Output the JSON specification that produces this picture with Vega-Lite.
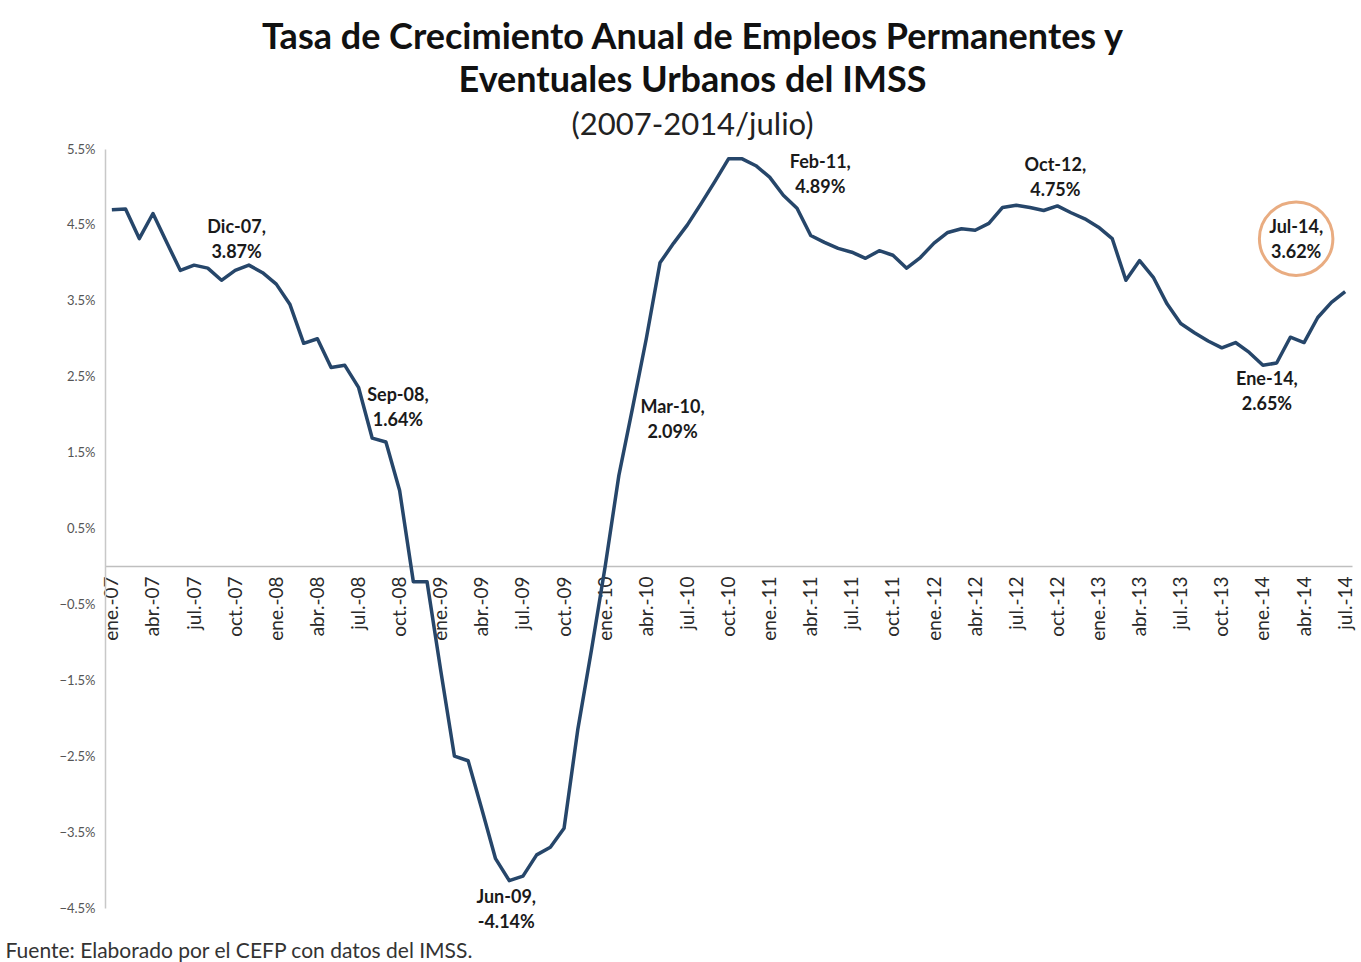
{
  "$schema": "https://vega.github.io/schema/vega-lite/v6.json",
  "autosize": "none",
  "width": 1247,
  "height": 759,
  "padding": {"left": 105, "top": 149, "right": 9, "bottom": 54},
  "background": "white",
  "config": {"view": {"stroke": null}, "font": "Lato"},
  "title": {
    "text": ["Tasa de Crecimiento Anual de Empleos Permanentes y", "Eventuales Urbanos del IMSS"],
    "subtitle": "(2007-2014/julio)",
    "anchor": "middle",
    "dx": -36,
    "font": "Lato",
    "fontSize": 36,
    "fontWeight": "bold",
    "color": "#111111",
    "lineHeight": 43,
    "subtitleFont": "Lato",
    "subtitleFontSize": 31,
    "subtitleColor": "#222222",
    "subtitlePadding": 11,
    "offset": 1
  },
  "data": {
    "values": [
      {"mes": "ene.-07", "v": 4.70}, {"mes": "feb.-07", "v": 4.71}, {"mes": "mar.-07", "v": 4.32}, {"mes": "abr.-07", "v": 4.65},
      {"mes": "may.-07", "v": 4.27}, {"mes": "jun.-07", "v": 3.90}, {"mes": "jul.-07", "v": 3.97}, {"mes": "ago.-07", "v": 3.93},
      {"mes": "sep.-07", "v": 3.77}, {"mes": "oct.-07", "v": 3.90}, {"mes": "nov.-07", "v": 3.97}, {"mes": "dic.-07", "v": 3.87, "label": "Dic-07,\n3.87%"},
      {"mes": "ene.-08", "v": 3.72}, {"mes": "feb.-08", "v": 3.45}, {"mes": "mar.-08", "v": 2.94}, {"mes": "abr.-08", "v": 3.00},
      {"mes": "may.-08", "v": 2.62}, {"mes": "jun.-08", "v": 2.65}, {"mes": "jul.-08", "v": 2.36}, {"mes": "ago.-08", "v": 1.69},
      {"mes": "sep.-08", "v": 1.64, "label": "Sep-08,\n1.64%"}, {"mes": "oct.-08", "v": 1.00}, {"mes": "nov.-08", "v": -0.20}, {"mes": "dic.-08", "v": -0.20},
      {"mes": "ene.-09", "v": -1.37}, {"mes": "feb.-09", "v": -2.50}, {"mes": "mar.-09", "v": -2.56}, {"mes": "abr.-09", "v": -3.20},
      {"mes": "may.-09", "v": -3.85}, {"mes": "jun.-09", "v": -4.14, "label": "Jun-09,\n-4.14%"}, {"mes": "jul.-09", "v": -4.08}, {"mes": "ago.-09", "v": -3.80},
      {"mes": "sep.-09", "v": -3.70}, {"mes": "oct.-09", "v": -3.45}, {"mes": "nov.-09", "v": -2.15}, {"mes": "dic.-09", "v": -1.10},
      {"mes": "ene.-10", "v": 0.00}, {"mes": "feb.-10", "v": 1.20}, {"mes": "mar.-10", "v": 2.09, "label": "Mar-10,\n2.09%"}, {"mes": "abr.-10", "v": 3.00},
      {"mes": "may.-10", "v": 4.00}, {"mes": "jun.-10", "v": 4.26}, {"mes": "jul.-10", "v": 4.50}, {"mes": "ago.-10", "v": 4.78},
      {"mes": "sep.-10", "v": 5.07}, {"mes": "oct.-10", "v": 5.37}, {"mes": "nov.-10", "v": 5.37}, {"mes": "dic.-10", "v": 5.28},
      {"mes": "ene.-11", "v": 5.13}, {"mes": "feb.-11", "v": 4.89, "label": "Feb-11,\n4.89%"}, {"mes": "mar.-11", "v": 4.72}, {"mes": "abr.-11", "v": 4.36},
      {"mes": "may.-11", "v": 4.27}, {"mes": "jun.-11", "v": 4.19}, {"mes": "jul.-11", "v": 4.14}, {"mes": "ago.-11", "v": 4.06},
      {"mes": "sep.-11", "v": 4.16}, {"mes": "oct.-11", "v": 4.10}, {"mes": "nov.-11", "v": 3.93}, {"mes": "dic.-11", "v": 4.07},
      {"mes": "ene.-12", "v": 4.26}, {"mes": "feb.-12", "v": 4.40}, {"mes": "mar.-12", "v": 4.45}, {"mes": "abr.-12", "v": 4.43},
      {"mes": "may.-12", "v": 4.52}, {"mes": "jun.-12", "v": 4.73}, {"mes": "jul.-12", "v": 4.76}, {"mes": "ago.-12", "v": 4.73},
      {"mes": "sep.-12", "v": 4.69}, {"mes": "oct.-12", "v": 4.75, "label": "Oct-12,\n4.75%"}, {"mes": "nov.-12", "v": 4.66}, {"mes": "dic.-12", "v": 4.58},
      {"mes": "ene.-13", "v": 4.47}, {"mes": "feb.-13", "v": 4.32}, {"mes": "mar.-13", "v": 3.77}, {"mes": "abr.-13", "v": 4.03},
      {"mes": "may.-13", "v": 3.81}, {"mes": "jun.-13", "v": 3.46}, {"mes": "jul.-13", "v": 3.20}, {"mes": "ago.-13", "v": 3.08},
      {"mes": "sep.-13", "v": 2.97}, {"mes": "oct.-13", "v": 2.88}, {"mes": "nov.-13", "v": 2.95}, {"mes": "dic.-13", "v": 2.82},
      {"mes": "ene.-14", "v": 2.65, "label": "Ene-14,\n2.65%"}, {"mes": "feb.-14", "v": 2.68}, {"mes": "mar.-14", "v": 3.02}, {"mes": "abr.-14", "v": 2.95},
      {"mes": "may.-14", "v": 3.28}, {"mes": "jun.-14", "v": 3.48}, {"mes": "jul.-14", "v": 3.62, "label": "Jul-14,\n3.62%"}
    ]
  },
  "encoding": {
    "x": {
      "field": "mes", "type": "ordinal", "sort": null,
      "scale": {"type": "point", "padding": 0.5},
      "axis": {
        "values": ["ene.-07","abr.-07","jul.-07","oct.-07","ene.-08","abr.-08","jul.-08","oct.-08","ene.-09","abr.-09","jul.-09","oct.-09","ene.-10","abr.-10","jul.-10","oct.-10","ene.-11","abr.-11","jul.-11","oct.-11","ene.-12","abr.-12","jul.-12","oct.-12","ene.-13","abr.-13","jul.-13","oct.-13","ene.-14","abr.-14","jul.-14"],
        "offset": -342,
        "labelAngle": -90,
        "labelAlign": "right",
        "labelBaseline": "middle",
        "labelPadding": 10,
        "labelFont": "Lato",
        "labelFontSize": 19,
        "labelColor": "#2a2a2a",
        "ticks": false,
        "domainColor": "#bfbfbf",
        "domainWidth": 1.5,
        "grid": false,
        "title": "Fuente: Elaborado por el CEFP con datos del IMSS.",
        "titleFont": "Lato",
        "titleFontSize": 21,
        "titleFontWeight": "normal",
        "titleColor": "#333333",
        "titleAlign": "left",
        "titleBaseline": "alphabetic",
        "titleAnchor": "start",
        "titleX": -100,
        "titleY": 391
      }
    },
    "y": {
      "field": "v", "type": "quantitative",
      "scale": {"domain": [-4.5, 5.5], "nice": false, "zero": false},
      "axis": {
        "values": [-4.5, -3.5, -2.5, -1.5, -0.5, 0.5, 1.5, 2.5, 3.5, 4.5, 5.5],
        "labelExpr": "format(datum.value, '.1f') + '%'",
        "labelFont": "Lato",
        "labelFontSize": 13,
        "labelColor": "#555555",
        "labelPadding": 10,
        "ticks": false,
        "grid": false,
        "domainColor": "#c8c8c8",
        "domainWidth": 1.5,
        "title": null
      }
    }
  },
  "layer": [
    {"mark": {"type": "line", "color": "#26466a", "strokeWidth": 3.5, "strokeJoin": "round"}},
    {"transform": [{"filter": "datum.label == 'Dic-07,\\n3.87%'"}], "mark": {"type": "text", "lineBreak": "\n", "fontSize": 18, "fontWeight": "bold", "color": "#1a1a1a", "lineHeight": 25, "dx": -26, "dy": -45}, "encoding": {"text": {"field": "label"}}},
    {"transform": [{"filter": "datum.label == 'Sep-08,\\n1.64%'"}], "mark": {"type": "text", "lineBreak": "\n", "fontSize": 18, "fontWeight": "bold", "color": "#1a1a1a", "lineHeight": 25, "dx": 12, "dy": -46}, "encoding": {"text": {"field": "label"}}},
    {"transform": [{"filter": "datum.label == 'Jun-09,\\n-4.14%'"}], "mark": {"type": "text", "lineBreak": "\n", "fontSize": 18, "fontWeight": "bold", "color": "#1a1a1a", "lineHeight": 25, "dx": -3, "dy": 17}, "encoding": {"text": {"field": "label"}}},
    {"transform": [{"filter": "datum.label == 'Mar-10,\\n2.09%'"}], "mark": {"type": "text", "lineBreak": "\n", "fontSize": 18, "fontWeight": "bold", "color": "#1a1a1a", "lineHeight": 25, "dx": 40, "dy": 0}, "encoding": {"text": {"field": "label"}}},
    {"transform": [{"filter": "datum.label == 'Feb-11,\\n4.89%'"}], "mark": {"type": "text", "lineBreak": "\n", "fontSize": 18, "fontWeight": "bold", "color": "#1a1a1a", "lineHeight": 25, "dx": 37, "dy": -32}, "encoding": {"text": {"field": "label"}}},
    {"transform": [{"filter": "datum.label == 'Oct-12,\\n4.75%'"}], "mark": {"type": "text", "lineBreak": "\n", "fontSize": 18, "fontWeight": "bold", "color": "#1a1a1a", "lineHeight": 25, "dx": -2, "dy": -40}, "encoding": {"text": {"field": "label"}}},
    {"transform": [{"filter": "datum.label == 'Ene-14,\\n2.65%'"}], "mark": {"type": "text", "lineBreak": "\n", "fontSize": 18, "fontWeight": "bold", "color": "#1a1a1a", "lineHeight": 25, "dx": 4, "dy": 15}, "encoding": {"text": {"field": "label"}}},
    {"transform": [{"filter": "datum.label == 'Jul-14,\\n3.62%'"}], "mark": {"type": "text", "lineBreak": "\n", "fontSize": 18, "fontWeight": "bold", "color": "#1a1a1a", "lineHeight": 25, "dx": -49, "dy": -64}, "encoding": {"text": {"field": "label"}}},
    {"transform": [{"filter": "datum.label == 'Jul-14,\\n3.62%'"}], "mark": {"type": "point", "shape": "circle", "filled": false, "size": 5400, "stroke": "#e08a4c", "strokeWidth": 3, "xOffset": -49, "yOffset": -53}}
  ]
}
